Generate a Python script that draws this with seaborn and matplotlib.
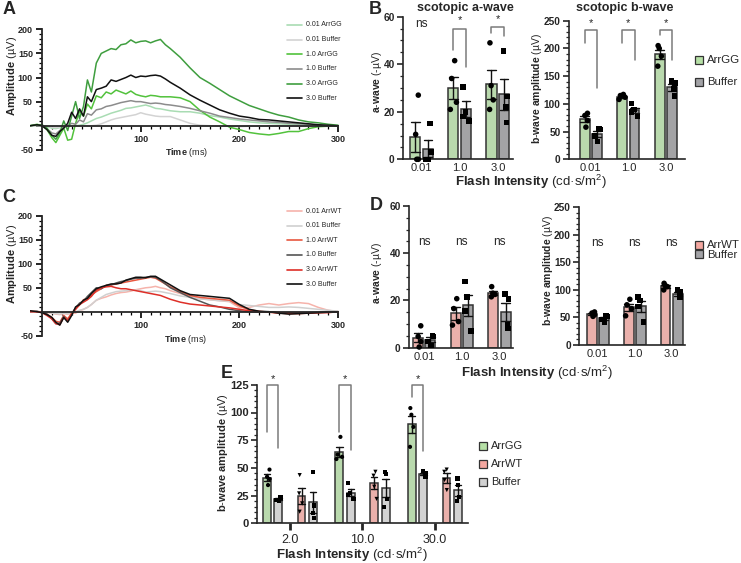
import numpy as np
import pandas as pd
import matplotlib.pyplot as plt
import seaborn as sns
from matplotlib.lines import Line2D
from matplotlib.patches import Rectangle
from matplotlib.ticker import MultipleLocator

TIME = [-12, -5, 0, 5, 10, 14, 18, 22, 26, 30, 34, 38, 42, 46, 50, 55, 60, 65, 70, 75,
        80, 85, 90, 95, 100, 105, 110, 115, 120, 125, 130, 140, 150, 160, 170, 180, 190,
        200, 210, 220, 230, 240, 250, 260, 270, 280, 290, 300]

A_LABELS = ['0.01 ArrGG', '0.01 Buffer', '1.0 ArrGG', '1.0 Buffer', '3.0 ArrGG', '3.0 Buffer']
A_COLORS = ['#a9dcb3', '#d3d3d3', '#52c23c', '#8c8c8c', '#3f9e3f', '#111111']
A_GG_001 = [0, 1, 0, -2, -5, -6, -4, -2, -1, 0, 0, 1, 3, 6, 10, 15, 18, 22, 26, 29,
            32, 36, 37, 39, 41, 43, 40, 36, 35, 33, 31, 29, 29, 26, 21, 18, 14, 11, 8, 6,
            5, 4, 3, 2, 2, 1, 0, 0]
A_BUF_001 = [0, 0, 0, -1, -3, -4, -3, -2, -1, 0, -1, 0, 0, 0, 0, 1, 4, 8, 12, 15,
             17, 19, 21, 23, 27, 24, 22, 20, 19, 19, 19, 12, 5, 1, 0, -1, -1, -2, -1, -1,
             0, 0, 0, -1, 0, 0, 0, 0]
A_GG_10 = [0, 3, 0, -8, -25, -35, -20, -5, -30, -28, 5, 30, 20, 45, 35, 62, 58, 70, 66, 74,
           70, 66, 72, 65, 62, 60, 63, 62, 60, 60, 60, 58, 50, 32, 18, 8, -3, -8, -14, -17,
           -19, -16, -12, -12, -6, -2, -1, 0]
A_BUF_10 = [0, 1, 0, -6, -15, -17, -10, -3, 0, 5, 3, 12, 8, 25, 22, 33, 35, 40, 42, 45,
            48, 50, 52, 50, 50, 48, 46, 47, 46, 44, 43, 40, 36, 31, 26, 20, 17, 14, 12, 10,
            8, 7, 5, 4, 3, 1, 0, 0]
A_GG_30 = [0, 2, 2, -5, -20, -28, -15, 10, -10, 20, 50, 15, 40, 95, 70, 130, 150, 155, 160, 158,
           168, 170, 178, 172, 175, 176, 172, 176, 179, 168, 160, 142, 120, 100, 88, 75, 62, 52, 42, 35,
           28, 22, 18, 12, 8, 6, 3, 1]
A_BUF_30 = [0, 2, 0, -8, -20, -22, -12, -5, 5, 28, 15, 35, 20, 60, 50, 75, 78, 82, 95, 92,
            96, 100, 105, 100, 103, 102, 104, 105, 103, 97, 90, 78, 64, 53, 43, 33, 26, 20, 17, 13,
            12, 10, 8, 6, 4, 2, 1, 0]

C_LABELS = ['0.01 ArrWT', '0.01 Buffer', '1.0 ArrWT', '1.0 Buffer', '3.0 ArrWT', '3.0 Buffer']
C_COLORS = ['#f6b3ab', '#d0d0d0', '#e8573f', '#555555', '#de2f28', '#111111']
C_WT_001 = [0, 0, 0, -1, -3, -5, -6, -4, -5, -3, -3, 2, 5, 9, 15, 24, 28, 31, 35, 38,
            40, 41, 43, 46, 48, 50, 51, 53, 50, 48, 44, 38, 32, 27, 25, 23, 21, 8, 9, 14,
            17, 14, 17, 19, 17, 9, 3, 0]
C_BUF_001 = [0, 0, 0, -1, -3, -4, -5, -3, -4, -2, 0, 3, 5, 9, 15, 24, 30, 36, 39, 42,
             43, 44, 45, 45, 44, 41, 42, 43, 42, 40, 38, 33, 30, 27, 25, 23, 22, 15, 13, 11,
             9, 9, 10, 9, 7, 5, 3, 1]
C_WT_10 = [1, 0, -1, -5, -12, -20, -22, -8, -15, -3, 6, 14, 25, 28, 35, 42, 48, 55, 56, 58,
           60, 62, 64, 66, 68, 70, 72, 70, 64, 58, 52, 42, 34, 30, 28, 26, 24, 12, 4, 1,
           -1, -3, -4, -4, -3, -2, -1, 0]
C_BUF_10 = [0, 1, -2, -5, -15, -25, -24, -10, -20, -5, 8, 18, 22, 32, 40, 50, 48, 55, 56, 60,
            63, 65, 68, 70, 70, 72, 73, 72, 66, 58, 50, 40, 30, 22, 14, 10, 5, 2, 0, -1,
            0, -2, -3, -3, -2, -1, 0, 0]
C_WT_30 = [0, 0, -2, -8, -15, -25, -27, -12, -18, -5, 5, 15, 20, 25, 32, 45, 50, 52, 53, 50,
           48, 48, 46, 44, 42, 40, 38, 36, 34, 30, 26, 20, 16, 14, 12, 10, 8, 5, 2, 0,
           -1, -2, -3, -3, -3, -2, -2, 0]
C_BUF_30 = [2, 0, -2, -6, -12, -22, -28, -12, -22, -8, 10, 15, 24, 28, 38, 48, 52, 55, 58, 58,
            60, 66, 69, 72, 72, 71, 74, 74, 68, 62, 56, 44, 36, 34, 32, 30, 28, 15, 5, 1,
            0, -3, -5, -4, -3, -2, -1, 0]

# ---------------- bar panels: individual eyes per intensity ----------------
INTENSITY = ['0.01', '1.0', '3.0']
B_A_ARRGG = [[27, 10.5, 0, 0], [41.5, 34, 24, 21], [49, 31, 25, 21]]
B_A_BUFFER = [[15, 3, 0, 0], [30.5, 20, 18, 16], [45.5, 26.5, 22, 15.5]]
B_B_ARRGG = [[83, 79, 70, 58], [117, 115, 112, 108], [205, 200, 186, 168]]
B_B_BUFFER = [[55, 54, 42, 32], [101, 90, 85, 77], [141, 138, 127, 114]]

D_A_ARRWT = [[9.2, 4.7, 2.5, 0.2], [20.7, 16.5, 11, 9.5], [25.8, 23, 22.5, 21.5]]
D_A_BUFFER = [[5, 4.7, 2.6, 0.8], [28, 21.5, 15.5, 7], [22.8, 20.5, 9.5, 8]]
D_B_ARRWT = [[60, 58, 55, 52], [83, 73, 66, 53], [112, 108, 106, 100]]
D_B_BUFFER = [[53, 52, 46, 42], [87, 81, 70, 42], [100, 96, 89, 86]]

E_INTENSITY = ['2.0', '10.0', '30.0']
E_ARRGG = [[48.5, 42, 40, 34.5], [78, 62, 60, 58], [104, 98, 87, 69]]
E_BUF_GG = [[23.4, 22.5, 21, 20.4], [36.5, 27, 25.5, 22], [47.5, 45, 43.5, 42]]
E_ARRWT = [[43.5, 27, 18, 10.5], [46.5, 43, 33, 22], [48.5, 46.5, 39, 30]]
E_BUF_WT = [[46, 16, 9, 5], [46.5, 44.5, 22, 15], [40.5, 34.5, 24, 20]]

# significance brackets: group index, top, left-leg end, right-leg end
B_A_SIG = [(1, 55, 46, 39), (2, 55.5, 53, 52)]
B_B_SIG = [(0, 233, 209, 128), (1, 233, 210, 179), (2, 233, 224, 179)]
E_SIG = [(0, 125, 82, 68), (1, 125, 82, 66), (2, 125, 114, 65)]

GREEN, GRAY, SALMON, LIGHTGRAY = '#b6e0a6', '#a2a2a6', '#f4a7a0', '#d2d2d2'

sns.set_style('ticks')
plt.rcParams['font.family'] = ['Liberation Sans', 'DejaVu Sans']
plt.rcParams['mathtext.fontset'] = 'custom'
plt.rcParams['mathtext.rm'] = 'Liberation Sans'
plt.rcParams['mathtext.bf'] = 'Liberation Sans:bold'
plt.rcParams['mathtext.it'] = 'Liberation Sans:italic'
plt.rcParams['axes.unicode_minus'] = False

W, H = 741, 563
fig = plt.figure(figsize=(W / 100, H / 100), dpi=100)


def fx(px):
    return px / W


def fy(py):
    return 1 - py / H


def add_axes(x0, y0, x1, y1):
    return fig.add_axes([fx(x0), fy(y1), (x1 - x0) / W, (y1 - y0) / H])


def long_traces(labels, traces):
    rows = []
    for lab, tr in zip(labels, traces):
        for t, v in zip(TIME, tr):
            rows.append((lab, t, v))
    return pd.DataFrame(rows, columns=['trace', 'time', 'amp'])


def long_bars(order, groups, values):
    rows = []
    for g, per_int in zip(groups, values):
        for lab, pts in zip(order, per_int):
            for v in pts:
                rows.append((lab, g, v))
    return pd.DataFrame(rows, columns=['intensity', 'group', 'value'])


def trace_panel(ax, df, labels, colors):
    sns.lineplot(data=df, x='time', y='amp', hue='trace', hue_order=labels,
                 palette=dict(zip(labels, colors)), estimator=None, sort=False,
                 linewidth=1.1, legend=False, ax=ax)
    ax.set_xlim(-12, 305)
    ax.set_ylim(-52, 205)
    ax.spines[['top', 'right']].set_visible(False)
    ax.spines['left'].set_position(('data', 0))
    ax.spines['left'].set_bounds(-50, 200)
    ax.spines['bottom'].set_position(('data', 0))
    ax.spines['bottom'].set_bounds(0, 300)
    for s in ['left', 'bottom']:
        ax.spines[s].set_linewidth(1.3)
    ax.set_xticks([100, 200, 300])
    ax.set_xticklabels(['100', '200', '300'], fontweight='bold', fontsize=6.5)
    ax.set_xticks(np.arange(10, 300, 10), minor=True)
    ax.set_yticks([-50, 0, 50, 100, 150, 200])
    ax.set_yticklabels(['-50', '', '50', '100', '150', '200'], fontweight='bold', fontsize=6.5)
    ax.set_yticks(np.arange(-50, 201, 10), minor=True)
    ax.tick_params(which='major', length=4, width=1.2, color='black', pad=2.5)
    ax.tick_params(which='minor', length=2, width=0.9, color='black')
    ax.set_xlabel('')
    ax.set_ylabel('')
    ax.patch.set_alpha(0)


def bar_panel(ax, df, order, hue_order, palette, markers, width, gap, pt_size):
    sns.barplot(data=df, x='intensity', y='value', hue='group', order=order,
                hue_order=hue_order, palette=palette, width=width, gap=gap,
                errorbar='se', capsize=0.45, err_kws={'color': '#111111', 'linewidth': 1.0},
                edgecolor='#333333', linewidth=1.1, legend=False, ax=ax)
    np.random.seed(4)
    black = {h: 'black' for h in hue_order}
    for g, m in markers.items():
        sns.stripplot(data=df[df['group'] == g], x='intensity', y='value', hue='group',
                      order=order, hue_order=hue_order, palette=black, dodge=True,
                      jitter=0.2, marker=m, size=pt_size, linewidth=0, legend=False,
                      zorder=3, ax=ax)
    # stripplot dodges over a fixed 0.8 width; pull the points onto the bars
    for coll in ax.collections:
        off = np.asarray(coll.get_offsets(), dtype=float)
        if len(off):
            c = np.round(off[:, 0])
            off[:, 0] = c + (off[:, 0] - c) * width / 0.8
            coll.set_offsets(off)
        coll.set_clip_on(False)


def style_bar_axes(ax, xlim, ymax, major, minor, ylab_size=7.3):
    ax.set_xlim(xlim)
    ax.set_ylim(0, ymax)
    ax.spines[['top', 'right']].set_visible(False)
    for s in ['left', 'bottom']:
        ax.spines[s].set_linewidth(1.2)
    ax.yaxis.set_major_locator(MultipleLocator(major))
    ax.yaxis.set_minor_locator(MultipleLocator(minor))
    ax.tick_params(axis='y', which='major', length=4, width=1.2, labelsize=ylab_size, pad=2)
    ax.tick_params(axis='y', which='minor', length=2.2, width=0.9)
    ax.tick_params(axis='x', length=0, labelsize=8, pad=3)
    plt.setp(ax.get_yticklabels(), fontweight='bold')
    ax.set_xlabel('')
    ax.set_ylabel('')
    ax.patch.set_alpha(0)


def brackets(ax, sig, off0, off1, star_gap):
    for grp, top, left, right in sig:
        x0, x1 = grp + off0, grp + off1
        ax.plot([x0, x0, x1, x1], [left, top, top, right], color='#7a7a7a', lw=1.1,
                clip_on=False)
        ax.text((x0 + x1) / 2, top + star_gap, '*', ha='center', va='center', fontsize=8,
                clip_on=False)


def line_legend(x, y0, dy, labels, colors):
    for i, (lab, c) in enumerate(zip(labels, colors)):
        y = y0 + i * dy
        fig.add_artist(Line2D([fx(x), fx(x + 15)], [fy(y), fy(y)], color=c, lw=1.2,
                              transform=fig.transFigure))
        fig.text(fx(x + 19.5), fy(y), lab, fontsize=5, ha='left', va='center')


def box_legend(x, y0, dy, labels, colors, size, box=8):
    for i, (lab, c) in enumerate(zip(labels, colors)):
        y = y0 + i * dy
        fig.add_artist(Rectangle((fx(x), fy(y + box / 2)), box / W, box / H, facecolor=c,
                                 edgecolor='#333333', linewidth=0.9, transform=fig.transFigure))
        fig.text(fx(x + box + 4), fy(y), lab, fontsize=size, ha='left', va='center')


def ftext(x, y, s, **kw):
    fig.text(fx(x), fy(y), s, ha=kw.pop('ha', 'center'), va=kw.pop('va', 'center'), **kw)


# ---------------- A: ArrGG traces ----------------
axA = add_axes(30.2, 26.9, 343, 150.8)
trace_panel(axA, long_traces(A_LABELS, [A_GG_001, A_BUF_001, A_GG_10, A_BUF_10, A_GG_30, A_BUF_30]),
            A_LABELS, A_COLORS)
line_legend(287, 25, 14.65, A_LABELS, A_COLORS)
ftext(12, 76, r'$\mathbf{Amplitude}$ (µV)', rotation=90, fontsize=8)
ftext(186, 152.7, r'$\mathbf{Time}$ (ms)', fontsize=6.5)

# ---------------- C: ArrWT traces ----------------
axC = add_axes(30.2, 213.6, 343, 336.6)
trace_panel(axC, long_traces(C_LABELS, [C_WT_001, C_BUF_001, C_WT_10, C_BUF_10, C_WT_30, C_BUF_30]),
            C_LABELS, C_COLORS)
line_legend(287, 211, 14.65, C_LABELS, C_COLORS)
ftext(12, 264, r'$\mathbf{Amplitude}$ (µV)', rotation=90, fontsize=8)
ftext(185, 339.3, r'$\mathbf{Time}$ (ms)', fontsize=6.5)

# ---------------- B: scotopic a/b-wave, ArrGG vs Buffer ----------------
groups_b = ['ArrGG', 'Buffer']
pal_b = {'ArrGG': GREEN, 'Buffer': GRAY}
mk_b = {'ArrGG': 'o', 'Buffer': 's'}

axBa = add_axes(403, 16.7, 513, 159.3)
bar_panel(axBa, long_bars(INTENSITY, groups_b, [B_A_ARRGG, B_A_BUFFER]), INTENSITY,
          groups_b, pal_b, mk_b, 0.66, 0.2, 4)
style_bar_axes(axBa, (-0.49, 2.4), 60, 20, 5)
brackets(axBa, B_A_SIG, -0.165, 0.165, 3.6)
axBa.text(0, 57, 'ns', ha='center', va='center', fontsize=8.5)

axBb = add_axes(569, 20.7, 685, 159.3)
bar_panel(axBb, long_bars(INTENSITY, groups_b, [B_B_ARRGG, B_B_BUFFER]), INTENSITY,
          groups_b, pal_b, mk_b, 0.66, 0.2, 4)
style_bar_axes(axBb, (-0.58, 2.51), 250, 50, 10)
brackets(axBb, B_B_SIG, -0.165, 0.165, 12)

ftext(465, 8, 'scotopic a-wave', fontsize=9, fontweight='bold')
ftext(625, 8, 'scotopic b-wave', fontsize=9, fontweight='bold')
ftext(377, 82, r'$\mathbf{a}$-$\mathbf{wave}$ (-µV)', rotation=90, fontsize=7.5)
ftext(537, 88, r'$\mathbf{b}$-$\mathbf{wave\ amplitude}$ (µV)', rotation=90, fontsize=7.5)
ftext(531, 182, r'$\mathbf{Flash\ Intensity}$ (cd·s/m$^{2}$)', fontsize=9.5)
box_legend(695, 60, 21.7, groups_b, [GREEN, GRAY], 8.2)

# ---------------- D: scotopic a/b-wave, ArrWT vs Buffer ----------------
groups_d = ['ArrWT', 'Buffer']
pal_d = {'ArrWT': SALMON, 'Buffer': GRAY}
mk_d = {'ArrWT': 'o', 'Buffer': 's'}

axDa = add_axes(409, 206, 513, 347.5)
bar_panel(axDa, long_bars(INTENSITY, groups_d, [D_A_ARRWT, D_A_BUFFER]), INTENSITY,
          groups_d, pal_d, mk_d, 0.66, 0.2, 4)
style_bar_axes(axDa, (-0.4, 2.36), 60, 20, 5)
for i in range(3):
    axDa.text(i, 44.6, 'ns', ha='center', va='center', fontsize=8.5)

axDb = add_axes(579.3, 207.3, 685, 345)
bar_panel(axDb, long_bars(INTENSITY, groups_d, [D_B_ARRWT, D_B_BUFFER]), INTENSITY,
          groups_d, pal_d, mk_d, 0.66, 0.2, 4)
style_bar_axes(axDb, (-0.5, 2.36), 250, 50, 10)
for i in range(3):
    axDb.text(i, 185, 'ns', ha='center', va='center', fontsize=8.5)

ftext(377, 273, r'$\mathbf{a}$-$\mathbf{wave}$ (-µV)', rotation=90, fontsize=7.5)
ftext(548, 270, r'$\mathbf{b}$-$\mathbf{wave\ amplitude}$ (µV)', rotation=90, fontsize=7.5)
ftext(537, 372.5, r'$\mathbf{Flash\ Intensity}$ (cd·s/m$^{2}$)', fontsize=9.5)
box_legend(695, 244.5, 10, groups_d, [SALMON, GRAY], 8.2)

# ---------------- E: b-wave at brighter flashes ----------------
groups_e = ['ArrGG', 'BufGG', 'gap', 'ArrWT', 'BufWT']
pal_e = {'ArrGG': GREEN, 'BufGG': LIGHTGRAY, 'gap': 'white', 'ArrWT': SALMON, 'BufWT': LIGHTGRAY}
mk_e = {'ArrGG': 'o', 'BufGG': 's', 'ArrWT': 'v', 'BufWT': 's'}

axE = add_axes(257, 384.8, 468.3, 523.3)
bar_panel(axE, long_bars(E_INTENSITY, ['ArrGG', 'BufGG', 'ArrWT', 'BufWT'],
                         [E_ARRGG, E_BUF_GG, E_ARRWT, E_BUF_WT]),
          E_INTENSITY, groups_e, pal_e, mk_e, 0.8, 0.33, 3)
style_bar_axes(axE, (-0.455, 2.46), 125, 25, 5, ylab_size=8)
axE.tick_params(axis='x', length=5, width=2, labelsize=9, pad=2.5)
brackets(axE, E_SIG, -0.32, -0.16, 5)

ftext(227, 374, 'E', fontsize=13, fontweight='bold')
ftext(223, 452, r'$\mathbf{b}$-$\mathbf{wave\ amplitude}$ (µV)', rotation=90, fontsize=8)
ftext(352, 555, r'$\mathbf{Flash\ Intensity}$ (cd·s/m$^{2}$)', fontsize=9.5)
box_legend(479, 446, 18.2, ['ArrGG', 'ArrWT', 'Buffer'], [GREEN, SALMON, LIGHTGRAY], 8)

# panel letters
ftext(9, 10, 'A', fontsize=13, fontweight='bold')
ftext(375, 10, 'B', fontsize=13, fontweight='bold')
ftext(9, 197, 'C', fontsize=13, fontweight='bold')
ftext(376, 205, 'D', fontsize=13, fontweight='bold')

fig.savefig('out.png', dpi=100)
